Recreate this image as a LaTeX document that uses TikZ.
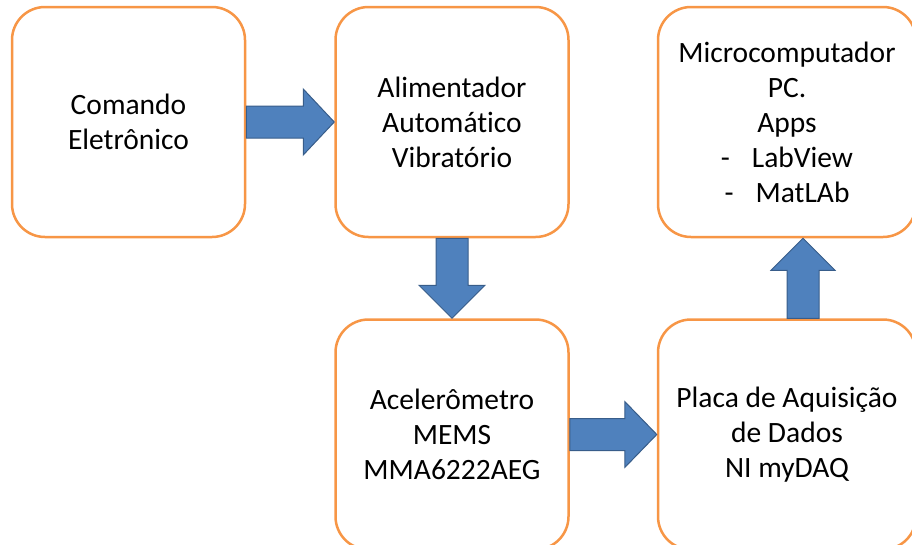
\documentclass[tikz,border=0pt]{standalone}
\usepackage{fontspec}
\setmainfont{Carlito}[Ligatures=NoCommon]
\usetikzlibrary{positioning,calc}
\definecolor{boxorange}{HTML}{F79646}
\definecolor{arrowblue}{HTML}{4F81BD}
\definecolor{arrowedge}{HTML}{385D8A}
\tikzset{
	block/.style={draw=boxorange, line width=2.5pt, rounded corners=33pt, fill=white,
		minimum width=233pt, minimum height=230pt, align=center,
		font=\fontsize{29.5}{35}\selectfont},
	wideblock/.style={block, minimum width=258pt},
	bigarrow/.style={fill=arrowblue, draw=arrowedge, line width=1pt, line join=miter}
}
\begin{document}
\begin{tikzpicture}[x=1pt, y=-1pt]
	\useasboundingbox (0,0) rectangle (912,544);

	\node[block] (cmd) at (128.5,122) {Comando\\Eletrônico};
	\node[block, right=88pt of cmd] (ali) {Alimentador\\Automático\\Vibratório};
	\node[wideblock, right=87pt of ali] (pc) {Microcomputador\\PC.\\Apps\\-\hspace{22pt}LabView\\-\hspace{22pt}MatLAb};
	\node[block, below=80pt of ali] (acc) {Acelerômetro\\MEMS\\MMA6222AEG};
	\node[wideblock, right=87pt of acc] (daq) {Placa de Aquisição\\de Dados\\NI myDAQ};

	% comando -> alimentador
	\draw[bigarrow] ($(cmd.east)+(0,-16)$) -- ($(ali.west)+(-31,-16)$) -- ($(ali.west)+(-31,-33)$)
		-- (ali.west) -- ($(ali.west)+(-31,33)$) -- ($(ali.west)+(-31,16)$) -- ($(cmd.east)+(0,16)$) -- cycle;
	% alimentador -> acelerometro
	\draw[bigarrow] ($(ali.south)+(-16,0)$) -- ($(acc.north)+(-16,-33)$) -- ($(acc.north)+(-33,-33)$)
		-- (acc.north) -- ($(acc.north)+(33,-33)$) -- ($(acc.north)+(16,-33)$) -- ($(ali.south)+(16,0)$) -- cycle;
	% acelerometro -> placa
	\draw[bigarrow] ($(acc.east)+(0,-16)$) -- ($(daq.west)+(-32,-16)$) -- ($(daq.west)+(-32,-33)$)
		-- (daq.west) -- ($(daq.west)+(-32,33)$) -- ($(daq.west)+(-32,16)$) -- ($(acc.east)+(0,16)$) -- cycle;
	% placa -> PC
	\draw[bigarrow] ($(daq.north)+(0,0)$) -- ($(pc.south)+(0,32)$) -- ($(pc.south)+(-16,32)$)
		-- ($(pc.south)+(16,0)$) -- ($(pc.south)+(48,32)$) -- ($(pc.south)+(32,32)$) -- ($(daq.north)+(32,0)$) -- cycle;
\end{tikzpicture}
\end{document}
